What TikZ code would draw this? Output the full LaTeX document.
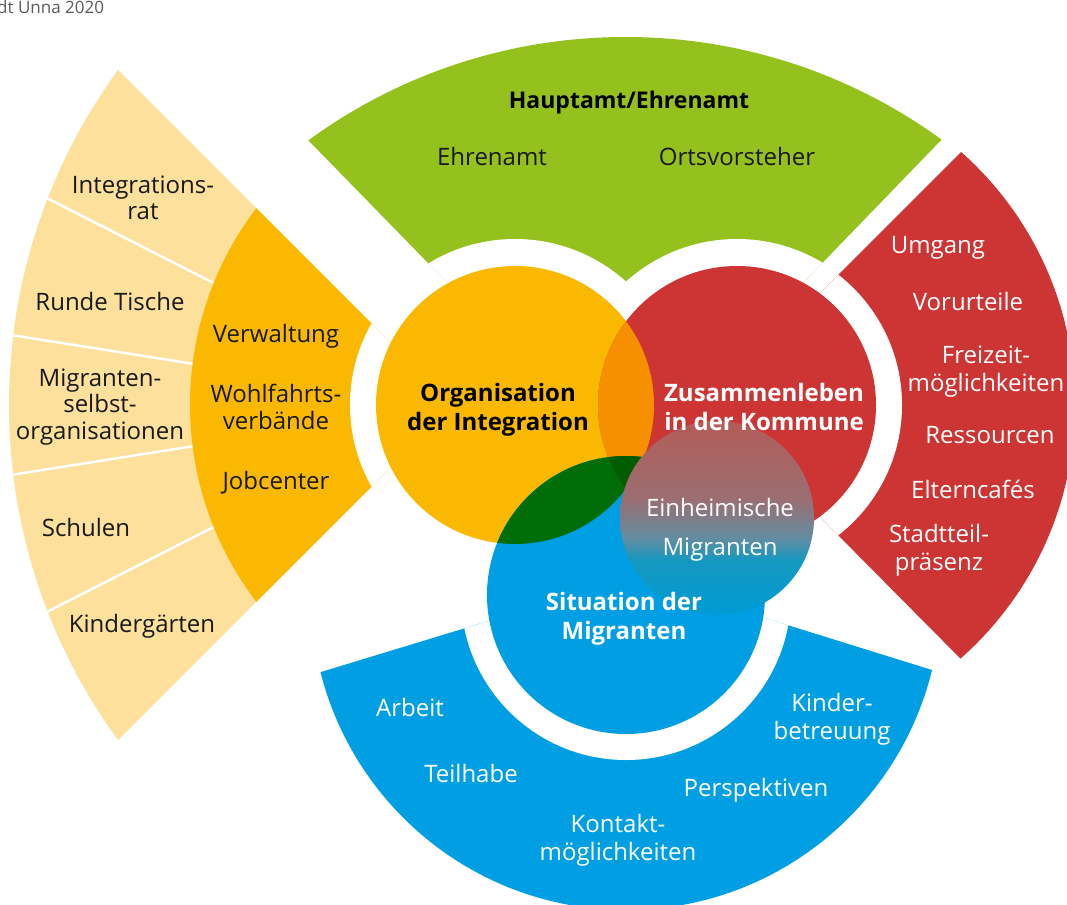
\documentclass[tikz,border=0pt]{standalone}
\usepackage{fontspec}
\setmainfont{Open Sans}
\definecolor{cgreen}{RGB}{149,193,31}
\definecolor{cred}{RGB}{205,53,53}
\definecolor{corange}{RGB}{250,185,0}
\definecolor{clight}{RGB}{252,224,155}
\definecolor{cblue}{RGB}{0,159,227}
\definecolor{cover}{RGB}{247,144,0}
\definecolor{cdgreen}{RGB}{0,110,8}
\definecolor{cdgreenb}{RGB}{0,92,0}
\definecolor{ctext}{RGB}{25,25,25}
\definecolor{csrc}{RGB}{90,90,90}
\definecolor{gA}{RGB}{180,92,88}
\definecolor{gB}{RGB}{155,110,114}
\definecolor{gC}{RGB}{100,140,160}
\definecolor{gD}{RGB}{20,152,192}
\definecolor{gE}{RGB}{0,156,212}
\pgfdeclareverticalshading{einhshade}{100bp}{color(0bp)=(gE); color(25bp)=(gE); color(39bp)=(gD); color(45bp)=(gC); color(55bp)=(gB); color(75bp)=(gA); color(100bp)=(gA)}
\begin{document}
\begin{tikzpicture}[x=1pt,y=-1pt,
  lbl/.style={font=\fontsize{24}{28}\selectfont, align=center, inner sep=0pt, text=ctext},
  llbl/.style={font=\fontsize{24}{26.5}\selectfont, align=center, inner sep=0pt, text=ctext},
  wlbl/.style={font=\fontsize{24}{28}\selectfont, align=center, inner sep=0pt, text=white},
  blbl/.style={font=\fontsize{24}{29}\selectfont\bfseries, align=center, inner sep=0pt, text=black},
  wblbl/.style={font=\fontsize{24}{29}\selectfont\bfseries, align=center, inner sep=0pt, text=white},
  divider/.style={draw=white, line width=2.5pt}]
\useasboundingbox (0,0) rectangle (1067,904);

% left sector (light yellow + orange)
\begin{scope}
  \clip (453,405) -- (-200,-248) -- (-200,1058) -- cycle;
  \fill[clight] (578,405) circle[radius=569];
  \begin{scope}
    \clip (578,405) circle[radius=569];
    \foreach \a in {9,27} {
      \draw[divider] (453,405) -- ++(180+\a:700);
      \draw[divider] (453,405) -- ++(180-\a:700);
    }
  \end{scope}
  \fill[corange] (515,405) circle[radius=325];
  \fill[white] (515,405) circle[radius=165];
\end{scope}

% top sector (green)
\begin{scope}
  \clip (626,466) -- (-166,-346) -- (1416,-351) -- cycle;
  \fill[cgreen] (625.5,575) circle[radius=538];
  \fill[white] (515,405) circle[radius=166] (737,405) circle[radius=166];
\end{scope}

% right sector (red)
\begin{scope}
  \clip (708.5,404.5) -- (1408,-295) -- (1408,1110) -- cycle;
  \fill[cred] (737,405) circle[radius=338];
  \fill[white] (737,405) circle[radius=165];
\end{scope}

% bottom sector (blue)
\begin{scope}
  \clip (633,577) -- (-303,862) -- (-303,1500) -- (1530,1500) -- (1530,856) -- cycle;
  \fill[cblue] (626,595) circle[radius=315];
  \fill[white] (626,595) circle[radius=165];
\end{scope}

% Venn circles
\fill[corange] (515,405) circle[radius=139];
\fill[cred] (737,405) circle[radius=139];
\fill[cblue] (626,595) circle[radius=139];
\begin{scope}
  \clip (515,405) circle[radius=139];
  \fill[cover] (737,405) circle[radius=139];
  \fill[cdgreen] (626,595) circle[radius=139];
  \clip (737,405) circle[radius=139];
  \fill[cdgreenb] (626,595) circle[radius=139];
\end{scope}
\shade[shading=einhshade] (717,518) circle[radius=97];

% source note (cut off at the left edge, as in the reference)
\node[anchor=west, inner sep=0pt, font=\fontsize{17}{20}\selectfont, text=csrc] (src) at (-3,7) {dt Unna 2020};

% green texts
\node[blbl, font=\fontsize{23}{28}\selectfont\bfseries] (haupt) at (629,103) {Hauptamt/Ehrenamt};
\node[lbl] (ehren) at (492,157) {Ehrenamt};
\node[lbl] (orts) at (737,157) {Ortsvorsteher};

% red sector texts
\node[wlbl] (umgang) at (938,248) {Umgang};
\node[wlbl] (vorurt) at (968,301) {Vorurteile};
\node[wlbl] (freiz) at (986,372) {Freizeit-\\möglichkeiten};
\node[wlbl] (ressour) at (990,435) {Ressourcen};
\node[wlbl] (eltern) at (973,489) {Elterncafés};
\node[wlbl] (stadtt) at (939,550) {Stadtteil-\\präsenz};

% blue sector texts
\node[wlbl] (arbeit) at (410,707) {Arbeit};
\node[wlbl] (teilh) at (471,773) {Teilhabe};
\node[wlbl] (kontakt) at (618,840) {Kontakt-\\möglichkeiten};
\node[wlbl] (persp) at (756,790) {Perspektiven};
\node[wlbl] (kinderb) at (832,719) {Kinder-\\betreuung};

% left light yellow texts
\node[llbl] (intrat) at (143,198) {Integrations-\\rat};
\node[llbl] (runde) at (110,301) {Runde Tische};
\node[llbl] (migso) at (100,407) {Migranten-\\selbst-\\organisationen};
\node[llbl] (schulen) at (86,527) {Schulen};
\node[llbl] (kiga) at (142,626) {Kindergärten};

% orange sector texts
\node[llbl] (verw) at (276,336) {Verwaltung};
\node[llbl] (wohlf) at (276,407) {Wohlfahrts-\\verbände};
\node[llbl] (jobc) at (276,483) {Jobcenter};

% circle texts
\node[blbl] (orgint) at (498,410) {Organisation\\der Integration};
\node[wblbl] (zusam) at (764,407) {Zusammenleben\\in der Kommune};
\node[wblbl] (situ) at (624,619) {Situation der\\Migranten};
\node[wlbl] (einh) at (720,507) {Einheimische};
\node[wlbl] (migr) at (720,550) {Migranten};
\end{tikzpicture}
\end{document}
